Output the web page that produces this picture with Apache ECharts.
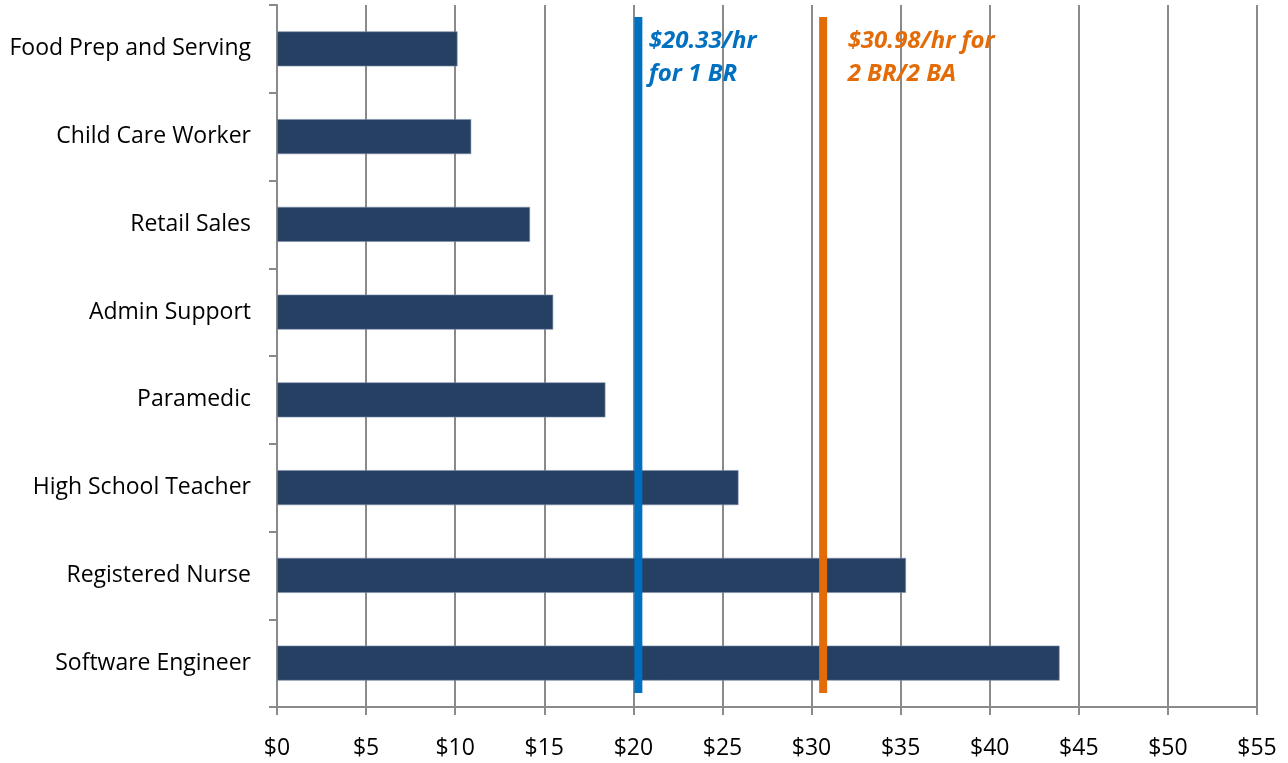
<!DOCTYPE html>
<html>
<head>
<meta charset="utf-8">
<script src="https://cdn.jsdelivr.net/npm/echarts@6/dist/echarts.min.js"></script>
<style>
  html, body { margin: 0; padding: 0; background: #fff; }
  #wage-chart { width: 1288px; height: 763px; }
</style>
</head>
<body>
<div id="wage-chart"></div>
<script>
// occupations, top to bottom
const jobs = ['Food Prep and Serving', 'Child Care Worker', 'Retail Sales', 'Admin Support',
  'Paramedic', 'High School Teacher', 'Registered Nurse', 'Software Engineer'];
// hourly wage, $
const wages = [10.13, 10.9, 14.2, 15.5, 18.43, 25.9, 35.3, 43.92];
// housing wage reference lines (position as drawn) and their notes
const housingWage = [20.28, 30.65];
const housingNote = ['$20.33/hr\nfor 1 BR', '$30.98/hr for\n2 BR/2 BA'];
const housingColor = ['#0070c0', '#e36c09'];
const noteGap = [10, 24];
const xTicks = [0, 5, 10, 15, 20, 25, 30, 35, 40, 45, 50, 55];

const mychart = echarts.init(document.getElementById('wage-chart'));
const font = '"Open Sans", "Liberation Sans", sans-serif';
const gridColor = '#8a8a8a';

// vertical lines on a hidden 0-100 axis
const lineSeries = housingWage.map((w, i) => ({
  type: 'line',
  xAxisIndex: 0,
  yAxisIndex: 1,
  symbol: 'none',
  z: 5,
  lineStyle: { color: housingColor[i], width: 8, cap: 'butt' },
  data: [[w, 2], [w, 98.3]]
}));

// notes next to the top of each line
const noteSeries = housingWage.map((w, i) => ({
  type: 'scatter',
  xAxisIndex: 0,
  yAxisIndex: 1,
  symbolSize: 1,
  z: 6,
  silent: true,
  itemStyle: { color: 'rgba(0,0,0,0)', opacity: 1 },
  label: {
    show: true,
    position: 'right',
    distance: noteGap[i],
    offset: [0, 8],
    verticalAlign: 'top',
    align: 'left',
    formatter: housingNote[i],
    color: housingColor[i],
    fontFamily: font,
    fontSize: 24,
    fontWeight: 'bold',
    fontStyle: 'italic',
    lineHeight: 33
  },
  data: [[w, 98.3]]
}));

const option = {
  animation: false,
  backgroundColor: '#fff',
  grid: { left: 277, right: 31, top: 5, bottom: 56, containLabel: false },
  xAxis: {
    type: 'value',
    min: 0,
    max: 55,
    interval: 5,
    axisLine: { show: true, lineStyle: { color: gridColor, width: 2 } },
    axisTick: { show: true, length: 8, lineStyle: { color: gridColor, width: 2 } },
    splitLine: { show: true, lineStyle: { color: gridColor, width: 2 } },
    axisLabel: {
      margin: 30,
      color: '#000',
      fontFamily: font,
      fontSize: 23,
      formatter: v => xTicks.includes(v) ? '$' + v : ''
    }
  },
  yAxis: [
    {
      type: 'category',
      data: jobs,
      inverse: true,
      axisLine: { show: true, lineStyle: { color: gridColor, width: 2 } },
      axisTick: { show: true, length: 8, alignWithLabel: false, lineStyle: { color: gridColor, width: 2 } },
      axisLabel: { margin: 26, color: '#000', fontFamily: font, fontSize: 23 }
    },
    { type: 'value', min: 0, max: 100, show: false }
  ],
  series: [
    {
      type: 'bar',
      yAxisIndex: 0,
      data: wages,
      barWidth: 35,
      itemStyle: { color: '#264064', borderColor: '#7d8fa8', borderWidth: 0.6 },
      z: 3
    },
    ...lineSeries,
    ...noteSeries
  ]
};

mychart.setOption(option);
window.onresize = mychart.resize;
</script>
</body>
</html>
